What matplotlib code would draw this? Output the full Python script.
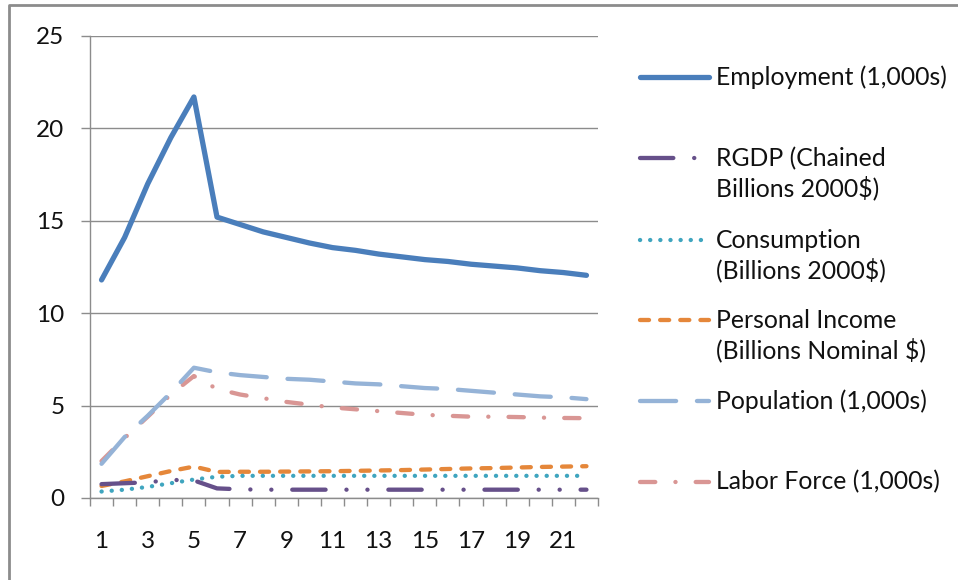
import numpy as np
import matplotlib.pyplot as plt
from matplotlib.lines import Line2D

plt.rcParams['font.family'] = ['Lato', 'DejaVu Sans']
plt.rcParams['lines.scale_dashes'] = False

periods = np.arange(1, 23)
tick_labels = [str(p) for p in periods[::2]]

employment = [11.8, 14.1, 17.0, 19.5, 21.7, 15.2, 14.8, 14.4, 14.1, 13.8, 13.55,
              13.4, 13.2, 13.05, 12.9, 12.8, 12.65, 12.55, 12.45, 12.3, 12.2, 12.05]
rgdp = [0.75, 0.8, 0.85, 0.98, 0.95, 0.52, 0.47, 0.45, 0.45, 0.45, 0.45,
        0.45, 0.45, 0.45, 0.45, 0.45, 0.45, 0.45, 0.45, 0.45, 0.45, 0.45]
consumption = [0.35, 0.45, 0.6, 0.8, 1.0, 1.15, 1.2, 1.2, 1.2, 1.2, 1.2,
               1.2, 1.2, 1.2, 1.2, 1.2, 1.2, 1.2, 1.2, 1.2, 1.2, 1.2]
personal_income = [0.65, 0.9, 1.18, 1.46, 1.7, 1.41, 1.42, 1.42, 1.43, 1.44, 1.45,
                   1.47, 1.49, 1.51, 1.54, 1.57, 1.6, 1.62, 1.65, 1.68, 1.7, 1.72]
population = [1.85, 3.3, 4.45, 5.7, 7.05, 6.8, 6.65, 6.55, 6.45, 6.4, 6.3,
              6.2, 6.15, 6.05, 5.95, 5.9, 5.8, 5.7, 5.6, 5.5, 5.45, 5.35]
labor_force = [2.0, 3.25, 4.4, 5.6, 6.6, 5.9, 5.6, 5.4, 5.2, 5.05, 4.9,
               4.8, 4.7, 4.6, 4.5, 4.45, 4.4, 4.4, 4.38, 4.35, 4.33, 4.32]

series = [
    ("Employment (1,000s)", employment, '#4A7EBB', 3.8, '-'),
    ("RGDP (Chained\nBillions 2000$)", rgdp, '#66508A', 3.1,
     (0, (24, 15, 0.1, 15, 0.1, 15))),
    ("Consumption\n(Billions 2000$)", consumption, '#3FA5BF', 3.1, (0, (0.1, 7.2))),
    ("Personal Income\n(Billions Nominal $)", personal_income, '#E5873A', 3.1, (0, (6.5, 8))),
    ("Population (1,000s)", population, '#95B3D7', 3.1, (0, (26, 15))),
    ("Labor Force (1,000s)", labor_force, '#D99694', 3.1, (0, (11, 14.5, 0.1, 14.5))),
]

W, H = 958, 580
fig = plt.figure(figsize=(W / 100, H / 100), dpi=100)
ax = fig.add_axes([90 / W, 1 - 498 / H, 508 / W, 462 / H])

# draw the thin lines first so employment sits on top
for label, vals, color, lw, ls in series[::-1]:
    ax.plot(periods, vals, color=color, lw=lw, linestyle=ls,
            solid_capstyle='round', dash_capstyle='round', solid_joinstyle='round')

grid_c = '#8C8C8C'
ax.set_xlim(0.5, 22.5)
ax.set_ylim(0, 25)
ax.set_yticks(np.arange(0, 26, 5))
ax.set_xticks(periods[::2])
ax.set_xticklabels(tick_labels)
ax.set_xticks(np.arange(0.5, 23, 1), minor=True)
ax.yaxis.grid(True, color=grid_c, lw=1)
ax.set_axisbelow(True)
for s in ['top', 'right']:
    ax.spines[s].set_visible(False)
for s in ['left', 'bottom']:
    ax.spines[s].set_color(grid_c)
    ax.spines[s].set_linewidth(1)
ax.tick_params(axis='y', length=6.5, width=1, color=grid_c, pad=12, labelsize=17.5,
               labelcolor='#111111')
ax.tick_params(axis='x', which='major', length=0, pad=24, labelsize=17.5,
               labelcolor='#111111')
ax.tick_params(axis='x', which='minor', length=5.5, width=1, color=grid_c)

# legend, Excel style: handle lines up with the first text line
legend_y = [77, 158, 240, 320, 401, 482]
for (label, vals, color, lw, ls), y in zip(series, legend_y):
    fy = 1 - y / H
    fig.add_artist(Line2D([640 / W, 709 / W], [fy, fy], transform=fig.transFigure,
                          color=color, lw=lw, linestyle=ls,
                          solid_capstyle='round', dash_capstyle='round'))
    n = label.count('\n')
    fig.text(716 / W, 1 - (y + 15.5 * n) / H, label, va='center', ha='left',
             fontsize=17.8, linespacing=1.28, color='#111111')

# chart frame
fig.add_artist(Line2D([9 / W, 9 / W, 1], [0, 1 - 5 / H, 1 - 5 / H],
                      transform=fig.transFigure, color='#8C8C8C', lw=2))

fig.savefig('out.png', dpi=100)
